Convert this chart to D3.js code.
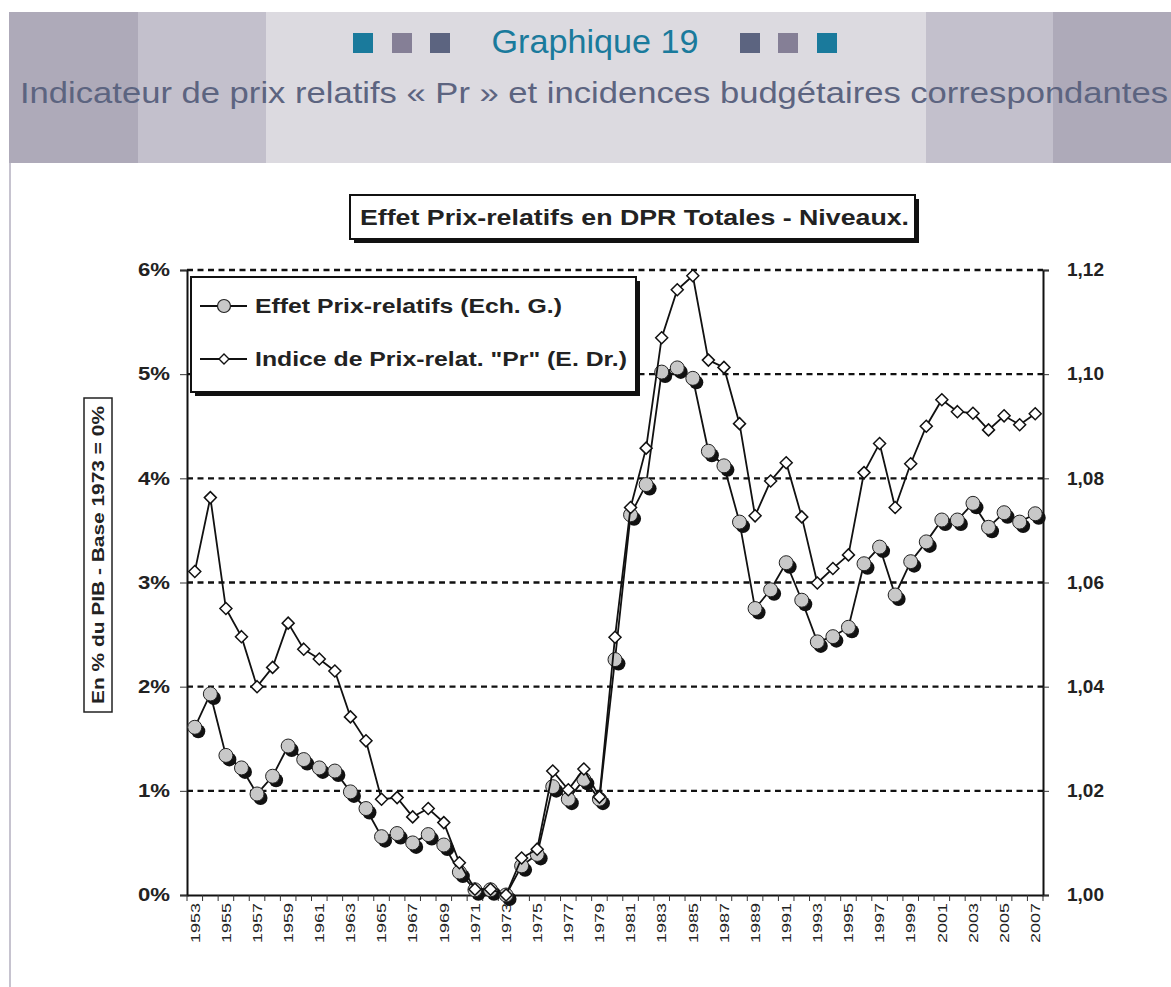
<!DOCTYPE html>
<html>
<head>
<meta charset="utf-8">
<script src="https://cdn.jsdelivr.net/npm/d3@7"></script>
<style>
  body { margin: 0; background: #fff; }
  svg { display: block; font-family: Arial, "Liberation Sans", sans-serif; }
</style>
</head>
<body>
<div id="chart"></div>
<script>
// data
var years = d3.range(1953, 2008);
var effetPrix = [1.61, 1.93, 1.34, 1.22, 0.97, 1.14, 1.43, 1.30, 1.22, 1.19,
  0.99, 0.83, 0.56, 0.59, 0.50, 0.58, 0.48, 0.22, 0.05, 0.05,
  0.00, 0.28, 0.39, 1.04, 0.92, 1.11, 0.92, 2.26, 3.65, 3.94,
  5.02, 5.06, 4.96, 4.26, 4.12, 3.58, 2.75, 2.93, 3.19, 2.83,
  2.43, 2.48, 2.57, 3.18, 3.34, 2.88, 3.20, 3.39, 3.60, 3.60,
  3.76, 3.53, 3.67, 3.58, 3.66];
var indicePr = [1.0621, 1.0763, 1.0550, 1.0496, 1.0400, 1.0437, 1.0522, 1.0472, 1.0453, 1.0430,
  1.0342, 1.0296, 1.0184, 1.0187, 1.0150, 1.0166, 1.0139, 1.0062, 1.0011, 1.0011,
  1.0000, 1.0071, 1.0088, 1.0238, 1.0202, 1.0242, 1.0188, 1.0495, 1.0744, 1.0858,
  1.1070, 1.1162, 1.1189, 1.1027, 1.1013, 1.0905, 1.0728, 1.0795, 1.0830, 1.0726,
  1.0599, 1.0627, 1.0653, 1.0811, 1.0867, 1.0744, 1.0828, 1.0900, 1.0951, 1.0928,
  1.0925, 1.0893, 1.0920, 1.0903, 1.0924];
var leftTicks = [0, 1, 2, 3, 4, 5, 6];
var rightTicks = [1.00, 1.02, 1.04, 1.06, 1.08, 1.10, 1.12];
var seriesNames = ["Effet Prix-relatifs (Ech. G.)", "Indice de Prix-relat. \"Pr\" (E. Dr.)"];

var W = 1171, H = 987;
var svg = d3.select("#chart").append("svg").attr("width", W).attr("height", H);

// ---- header band
var head = svg.append("g");
head.append("rect").attr("x", 9).attr("y", 12).attr("width", W - 9).attr("height", 151).attr("fill", "#aeaab9");
head.append("rect").attr("x", 138).attr("y", 12).attr("width", 1053 - 138).attr("height", 151).attr("fill", "#c3c0cc");
head.append("rect").attr("x", 266).attr("y", 12).attr("width", 926 - 266).attr("height", 151).attr("fill", "#dcdae0");
svg.append("line").attr("x1", 10).attr("x2", 10).attr("y1", 163).attr("y2", H)
  .attr("stroke", "#c6c3cf").attr("stroke-width", 2);

var squareCols = ["#1a7a9c", "#857f96", "#5c6480"];
[353, 392, 430].forEach(function (x, i) {
  head.append("rect").attr("x", x).attr("y", 33).attr("width", 20).attr("height", 20).attr("fill", squareCols[i]);
});
[740, 778, 817].forEach(function (x, i) {
  head.append("rect").attr("x", x).attr("y", 33).attr("width", 20).attr("height", 20).attr("fill", squareCols[2 - i]);
});
head.append("text").attr("x", 595).attr("y", 53).attr("text-anchor", "middle")
  .attr("font-size", 33).attr("fill", "#1a7a9c").attr("textLength", 207).attr("lengthAdjust", "spacingAndGlyphs")
  .text("Graphique 19");
head.append("text").attr("x", 20).attr("y", 103)
  .attr("font-size", 29).attr("fill", "#5c6480").attr("textLength", 1148).attr("lengthAdjust", "spacingAndGlyphs")
  .text("Indicateur de prix relatifs « Pr » et incidences budgétaires correspondantes");

// ---- chart frame
var plot = { left: 187, right: 1043, top: 270, bottom: 895 };

var x = d3.scaleBand().domain(years).range([plot.left, plot.right]);
var yL = d3.scaleLinear().domain([0, 6]).range([plot.bottom, plot.top]);
var yR = d3.scaleLinear().domain([1.00, 1.12]).range([plot.bottom, plot.top]);
var cx = function (d, i) { return x(years[i]) + x.bandwidth() / 2; };

// gridlines
svg.append("g").selectAll("line").data(leftTicks.slice(1)).join("line")
  .attr("x1", plot.left).attr("x2", plot.right)
  .attr("y1", function (d) { return yL(d); }).attr("y2", function (d) { return yL(d); })
  .attr("stroke", "#111").attr("stroke-width", 2.4).attr("stroke-dasharray", "6,4.5");

// left axis
var axL = svg.append("g").attr("transform", "translate(" + plot.left + ",0)")
  .call(d3.axisLeft(yL).tickValues(leftTicks).tickSize(7).tickFormat(function (d) { return d + "%"; }));
// right axis
var axR = svg.append("g").attr("transform", "translate(" + plot.right + ",0)")
  .call(d3.axisRight(yR).tickValues(rightTicks).tickSize(6)
    .tickFormat(function (d) { return d3.format(".2f")(d).replace(".", ","); }));
// bottom axis
var axB = svg.append("g").attr("transform", "translate(0," + plot.bottom + ")")
  .call(d3.axisBottom(x).tickSize(0).tickFormat(function (d) { return (d - 1953) % 2 === 0 ? d : ""; }));

[axL, axR, axB].forEach(function (a) {
  a.select(".domain").attr("stroke", "#111").attr("stroke-width", 2);
  a.selectAll(".tick line").attr("stroke", "#333").attr("stroke-width", 1);
});
axL.selectAll(".tick text").attr("font-size", 18).attr("font-weight", "bold").attr("fill", "#222")
  .attr("x", -17).attr("textLength", 32).attr("lengthAdjust", "spacingAndGlyphs");
axR.selectAll(".tick text").attr("font-size", 18).attr("font-weight", "bold").attr("fill", "#222")
  .attr("x", 24).attr("textLength", 37).attr("lengthAdjust", "spacingAndGlyphs");
axB.selectAll(".tick text").filter(function (d) { return (d - 1953) % 2 === 0; })
  .attr("font-size", 13.5).attr("fill", "#222")
  .attr("transform", "rotate(-90)").attr("text-anchor", "end").attr("x", -8).attr("y", 0).attr("dy", "0.35em")
  .attr("textLength", 40).attr("lengthAdjust", "spacingAndGlyphs");
// category boundary ticks on x axis
svg.append("g").selectAll("line").data(d3.range(years.length + 1)).join("line")
  .attr("x1", function (i) { return plot.left + i * x.step(); })
  .attr("x2", function (i) { return plot.left + i * x.step(); })
  .attr("y1", plot.bottom).attr("y2", plot.bottom + 6)
  .attr("stroke", "#333").attr("stroke-width", 1);

// ---- series 1 : circles on left axis
var line1 = d3.line().x(cx).y(function (d) { return yL(d); });
svg.append("path").datum(effetPrix).attr("d", line1)
  .attr("fill", "none").attr("stroke", "#111").attr("stroke-width", 1.8);
var dots = svg.append("g").selectAll("g").data(effetPrix).join("g")
  .attr("transform", function (d, i) { return "translate(" + cx(d, i) + "," + yL(d) + ")"; });
dots.append("circle").attr("cx", 3.5).attr("cy", 4).attr("r", 7).attr("fill", "#111");
dots.append("circle").attr("r", 7).attr("fill", "#c8c8c8").attr("stroke", "#222").attr("stroke-width", 1);

// ---- series 2 : diamonds on right axis
var line2 = d3.line().x(cx).y(function (d) { return yR(d); });
svg.append("path").datum(indicePr).attr("d", line2)
  .attr("fill", "none").attr("stroke", "#111").attr("stroke-width", 1.8);
var diamond = "M0,-6L6,0L0,6L-6,0Z";
svg.append("g").selectAll("path").data(indicePr).join("path")
  .attr("d", diamond)
  .attr("transform", function (d, i) { return "translate(" + cx(d, i) + "," + yR(d) + ")"; })
  .attr("fill", "#fff").attr("stroke", "#111").attr("stroke-width", 1.5);

// ---- legend
var leg = svg.append("g");
leg.append("rect").attr("x", 195).attr("y", 281).attr("width", 445).attr("height", 115).attr("fill", "#111");
leg.append("rect").attr("x", 191).attr("y", 277).attr("width", 445).attr("height", 115)
  .attr("fill", "#fff").attr("stroke", "#111").attr("stroke-width", 2);
var legY = [306, 359];
var legLen = [307, 372];
legY.forEach(function (ly, i) {
  leg.append("line").attr("x1", 200).attr("x2", 247).attr("y1", ly).attr("y2", ly)
    .attr("stroke", "#111").attr("stroke-width", 1.8);
  if (i === 0) {
    leg.append("circle").attr("cx", 224).attr("cy", ly).attr("r", 6.5)
      .attr("fill", "#c8c8c8").attr("stroke", "#222").attr("stroke-width", 1.2);
  } else {
    leg.append("path").attr("d", "M0,-5L5,0L0,5L-5,0Z").attr("transform", "translate(224," + ly + ")")
      .attr("fill", "#fff").attr("stroke", "#111").attr("stroke-width", 1.4);
  }
  leg.append("text").attr("x", 255).attr("y", ly + 7).attr("font-size", 20).attr("font-weight", "bold")
    .attr("fill", "#222").attr("textLength", legLen[i]).attr("lengthAdjust", "spacingAndGlyphs")
    .text(seriesNames[i]);
});

// ---- chart title box
var tb = svg.append("g");
tb.append("rect").attr("x", 354).attr("y", 199).attr("width", 565).attr("height", 44).attr("fill", "#111");
tb.append("rect").attr("x", 350).attr("y", 195).attr("width", 565).attr("height", 44)
  .attr("fill", "#fff").attr("stroke", "#111").attr("stroke-width", 2);
tb.append("text").attr("x", 360).attr("y", 225)
  .attr("font-size", 22).attr("font-weight", "bold").attr("fill", "#222")
  .attr("textLength", 549).attr("lengthAdjust", "spacingAndGlyphs")
  .text("Effet Prix-relatifs en DPR Totales - Niveaux.");

// ---- y axis title box
var yb = svg.append("g");
yb.append("rect").attr("x", 84).attr("y", 398).attr("width", 28).attr("height", 314)
  .attr("fill", "#fff").attr("stroke", "#222").attr("stroke-width", 1.5);
yb.append("text").attr("transform", "translate(104,555) rotate(-90)").attr("text-anchor", "middle")
  .attr("font-size", 17).attr("font-weight", "bold").attr("fill", "#222")
  .attr("textLength", 298).attr("lengthAdjust", "spacingAndGlyphs")
  .text("En % du PIB - Base 1973 = 0%");
</script>
</body>
</html>
